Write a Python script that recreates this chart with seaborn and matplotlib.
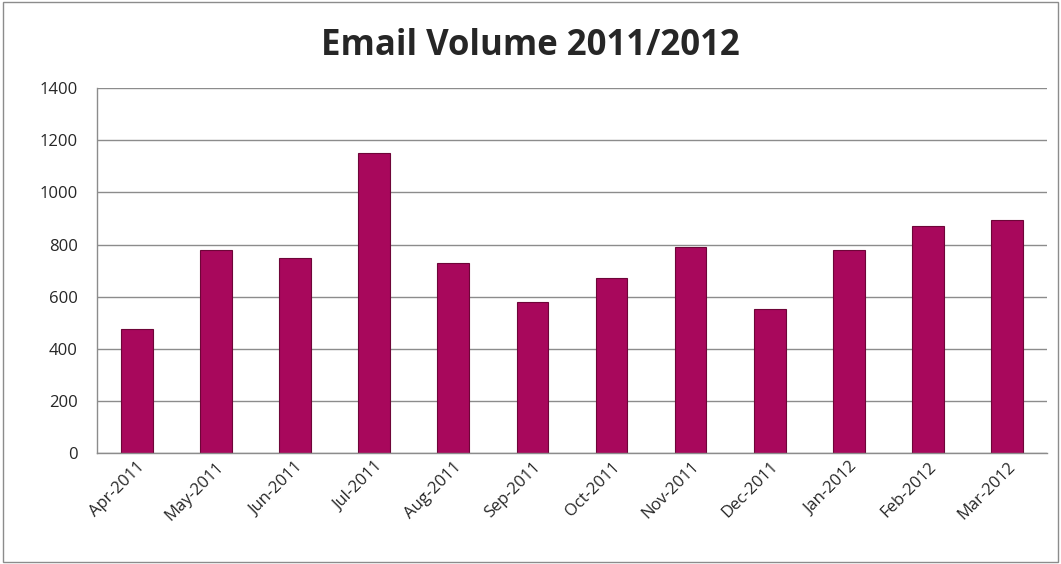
import pandas as pd
import seaborn as sns
import matplotlib.pyplot as plt
from matplotlib.patches import Rectangle

# данные с графика
months = ['Apr-2011', 'May-2011', 'Jun-2011', 'Jul-2011', 'Aug-2011', 'Sep-2011',
          'Oct-2011', 'Nov-2011', 'Dec-2011', 'Jan-2012', 'Feb-2012', 'Mar-2012']
volume = [478, 781, 750, 1151, 731, 581, 670, 792, 554, 779, 871, 895]

sns.set_style('white')
plt.rcParams['font.family'] = ['Open Sans', 'DejaVu Sans']

df = pd.DataFrame({'month': months, 'volume': volume})

fig = plt.figure(figsize=(10.61, 5.64), dpi=100)
ax = fig.add_axes([0.0917, 0.1963, 0.8948, 0.6477])

sns.barplot(data=df, x='month', y='volume', color='#A8085C', width=0.4,
            saturation=1, edgecolor='#6E0538', linewidth=0.8, ax=ax)

ax.set_ylim(0, 1400)
ax.set_yticks(range(0, 1401, 200))
ax.yaxis.grid(True, color='#8c8c8c', linewidth=1)
ax.set_axisbelow(True)
ax.set_xlabel('')
ax.set_ylabel('')
ax.set_xlim(-0.5, len(months) - 0.5)

for side in ['top', 'right']:
    ax.spines[side].set_visible(False)
for side in ['left', 'bottom']:
    ax.spines[side].set_color('#8c8c8c')
    ax.spines[side].set_linewidth(1)

ax.tick_params(axis='y', labelsize=12, pad=14, length=0)
ax.tick_params(axis='x', labelsize=12, length=0, pad=4)
plt.setp(ax.get_xticklabels(), rotation=45, ha='right', rotation_mode='anchor')

fig.suptitle('Email Volume 2011/2012', fontsize=25, fontweight='bold', y=0.95)

# рамка вокруг всего графика
fig.patches.append(Rectangle((0.003, 0.003), 0.994, 0.993, transform=fig.transFigure,
                             fill=False, edgecolor='#8c8c8c', linewidth=1))

fig.savefig('out.png', dpi=100)
